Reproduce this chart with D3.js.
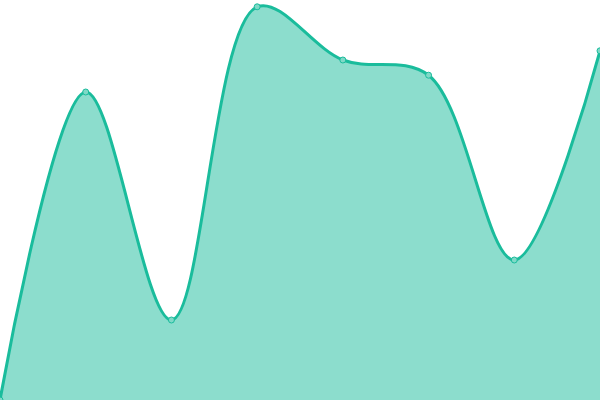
<!DOCTYPE html>
<html>
<head>
<meta charset="utf-8">
<script src="https://d3js.org/d3.v7.min.js"></script>
<style>
  html, body { margin: 0; padding: 0; background: #fff; }
  svg { display: block; }
</style>
</head>
<body>
<svg width="600" height="400"></svg>
<script>
// data
const labels = ["A", "B", "C", "D", "E", "F", "G", "H"];
const values = [0, 77, 20, 98.3, 85, 81.2, 35, 87.3];

const svg = d3.select("svg"),
    width = +svg.attr("width"),
    height = +svg.attr("height");

const x = d3.scalePoint().domain(labels).range([0, width]);
const y = d3.scaleLinear().domain([0, 100]).range([height, 0]);

const data = labels.map(function(l, i) { return {label: l, value: values[i]}; });

const curve = d3.curveCatmullRom.alpha(0.5);

const area = d3.area()
    .curve(curve)
    .x(function(d) { return x(d.label); })
    .y0(y(0))
    .y1(function(d) { return y(d.value); });

const line = d3.line()
    .curve(curve)
    .x(function(d) { return x(d.label); })
    .y(function(d) { return y(d.value); });

svg.append("path")
    .datum(data)
    .attr("fill", "rgba(26,188,156,0.5)")
    .attr("d", area);

svg.append("path")
    .datum(data)
    .attr("fill", "none")
    .attr("stroke", "#1abc9c")
    .attr("stroke-width", 3)
    .attr("d", line);

svg.append("g")
  .selectAll("circle")
  .data(data)
  .enter().append("circle")
    .attr("cx", function(d) { return x(d.label); })
    .attr("cy", function(d) { return y(d.value); })
    .attr("r", 3)
    .attr("fill", "#7fd9c7")
    .attr("stroke", "#1abc9c")
    .attr("stroke-width", 1);
</script>
</body>
</html>
